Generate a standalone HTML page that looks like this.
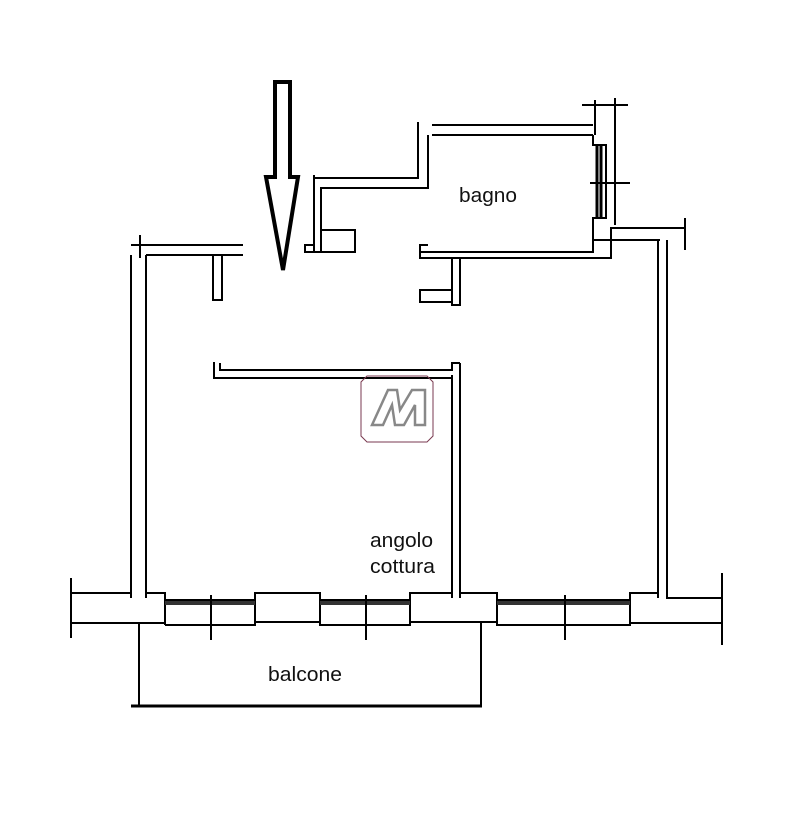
<!DOCTYPE html>
<html><head><style>body{margin:0;background:#fff}svg{display:block}</style></head><body>
<svg width="800" height="818" viewBox="0 0 800 818" xmlns="http://www.w3.org/2000/svg" font-family="Liberation Sans, sans-serif">
<g fill="none" stroke="#000" stroke-width="2">
<!-- arrow -->
<path d="M275 82 H290 V177 H298 L283 270 L266 177 H275 Z" stroke-width="4"/>
<!-- left wall -->
<path d="M243 245 H131 M140 235 V258 M131 255 V598 M146 255 H243 M146 255 V598"/>
<path d="M213 255 V300 H222 V255"/>
<!-- foyer piece -->
<path d="M314 175 V252 M314 178 H418 V122 M321 252 V188 H428 V135"/>
<path d="M321 230 H355 V252 H305 V245 H314"/>
<!-- bagno -->
<path d="M432 125 H593 M432 135 H593 M595 100 V135 M582 105 H628"/>
<path d="M593 135 V145 H606 V218 H593 V240 H611 V228 H685 M685 218 V250 M615 98 V225 M590 183 H630"/>
<path d="M597 145 V218 M601 145 V218" stroke-width="3"/>
<path d="M428 245 H420 V252 H593 V240 M420 252 V258 H611 V240 M611 240 H660"/>
<path d="M452 258 V305 H460 V258 M452 290 H420 V302 H452"/>
<!-- right wall -->
<path d="M658 240 V598 M667 240 V598 H722"/>
<!-- kitchen wall -->
<path d="M460 363 V598 M452 375 V598 M214 362 V378 H452 M220 363 V370 H452 V363 H460"/>
<!-- bottom wall -->
<path d="M71 578 V638 M71 593 H131 M146 593 H165 V625 M71 623 H165 M722 573 V645"/>
<path d="M165 600 H255 V593 H320 V600 H410 V593 H452 M460 593 H497 V600 H630 V593 H658"/>
<path d="M165 625 H255 V622 H320 V625 H410 V622 H497 V625 H630 V623 H722 M255 600 V622 M320 600 V622 M410 600 V622 M497 600 V625 M630 600 V623"/>
<path d="M165 603 H255 M320 603 H410 M497 603 H630" stroke-width="4" stroke="#333"/>
<path d="M211 595 V640 M366 595 V640 M565 595 V640"/>
<!-- balcony -->
<path d="M139 623 V706 M481 623 V706"/>
<path d="M131 706 H482" stroke-width="3"/>
</g>
<g font-size="20" fill="#111">
<text x="459" y="202" textLength="58" lengthAdjust="spacingAndGlyphs">bagno</text>
<text x="370" y="547" textLength="63" lengthAdjust="spacingAndGlyphs">angolo</text>
<text x="370" y="573" textLength="65" lengthAdjust="spacingAndGlyphs">cottura</text>
<text x="268" y="681" textLength="74" lengthAdjust="spacingAndGlyphs">balcone</text>
</g>
<path d="M367 376 H427 L433 382 V436 L427 442 H367 L361 436 V382 Z" fill="none" stroke="#7a3a50" stroke-width="1"/>
<path d="M372 425 L388 390 H397 L400 410 L412 390 H425 V425 H415 V405 L404 425 H395 L392 405 L383 425 Z" fill="none" stroke="#888" stroke-width="2.5"/>
</svg>
</body></html>
